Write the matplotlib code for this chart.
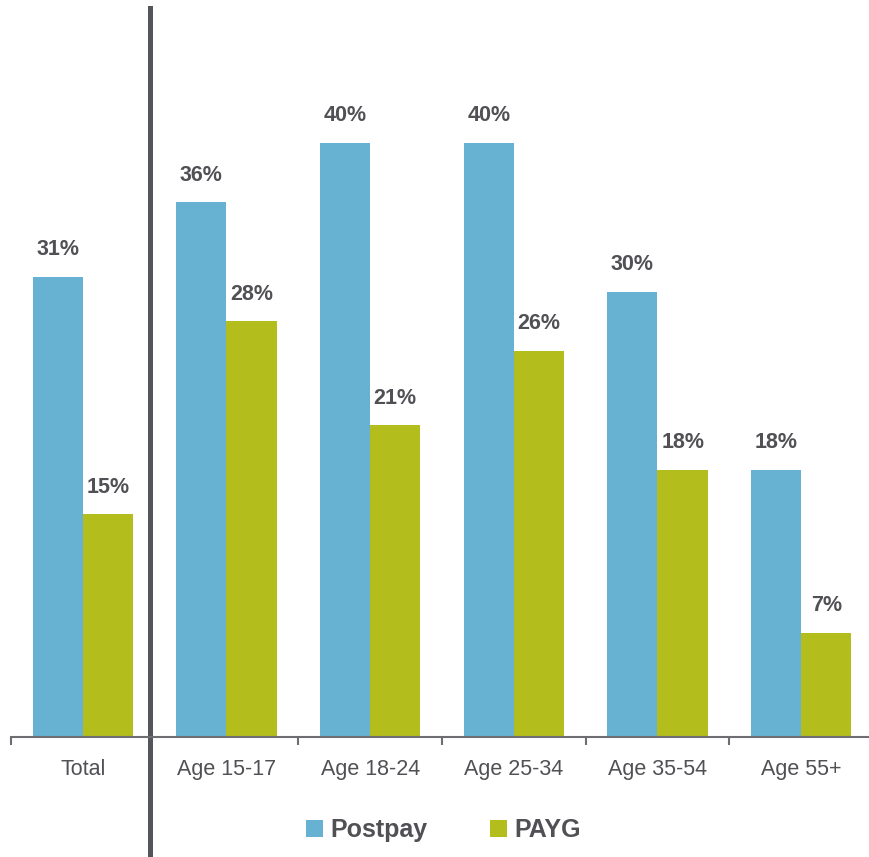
import numpy as np
import matplotlib
matplotlib.use("Agg")
import matplotlib.pyplot as plt

categories = ["Total", "Age 15-17", "Age 18-24", "Age 25-34", "Age 35-54", "Age 55+"]
postpay = [31, 36, 40, 40, 30, 18]
payg = [15, 28, 21, 26, 18, 7]

BLUE = "#67B1D2"
GREEN = "#B3BD1C"
TEXT = "#505055"
DARK = "#54555A"

plt.rcParams["font.family"] = ["Liberation Sans", "DejaVu Sans"]

fig = plt.figure(figsize=(8.7, 8.57), dpi=100)
ax = fig.add_axes([11 / 870, 120 / 857, 862 / 870, 729 / 857])

x = np.arange(len(categories))
w = 0.35
b1 = ax.bar(x - w / 2, postpay, w, color=BLUE, label="Postpay")
b2 = ax.bar(x + w / 2, payg, w, color=GREEN, label="PAYG")

for bars, vals in ((b1, postpay), (b2, payg)):
    for rect, v in zip(bars, vals):
        ax.annotate(f"{v}%", (rect.get_x() + rect.get_width() / 2, rect.get_height()),
                    xytext=(0, 12), textcoords="offset points", ha="center", va="bottom",
                    fontsize=15.5, fontweight="bold", color=TEXT)

ax.set_xlim(-0.5, len(categories) - 0.5)
ax.set_ylim(0, 49.1)
ax.set_yticks([])
for s in ("top", "right", "left"):
    ax.spines[s].set_visible(False)
ax.spines["bottom"].set_color("#6D6E72")
ax.spines["bottom"].set_linewidth(1.5)

ax.set_xticks(x)
ax.set_xticklabels(categories, fontsize=15.5, color=TEXT)
ax.tick_params(axis="x", which="major", length=0, pad=15.5)
# boundary ticks, the one behind the divider is left out
bounds = [b for b in np.arange(-0.5, len(categories)) if b != 0.5]
ax.set_xticks(bounds, minor=True)
ax.tick_params(axis="x", which="minor", length=5.5, width=1.5, color="#6D6E72")

# divider between Total and age groups (sits a little left of the boundary)
ax.axvline(0.47, ymin=-0.17, ymax=1, color=DARK, linewidth=3.6, clip_on=False)

fig.legend(handles=[b1, b2], loc="center", bbox_to_anchor=(0.51, 1 - 830 / 857),
           ncol=2, frameon=False, handlelength=0.68, handleheight=0.68,
           handletextpad=0.3, columnspacing=2.5, prop={"weight": "bold", "size": 18},
           labelcolor=TEXT)

fig.savefig("out.png", dpi=100)
